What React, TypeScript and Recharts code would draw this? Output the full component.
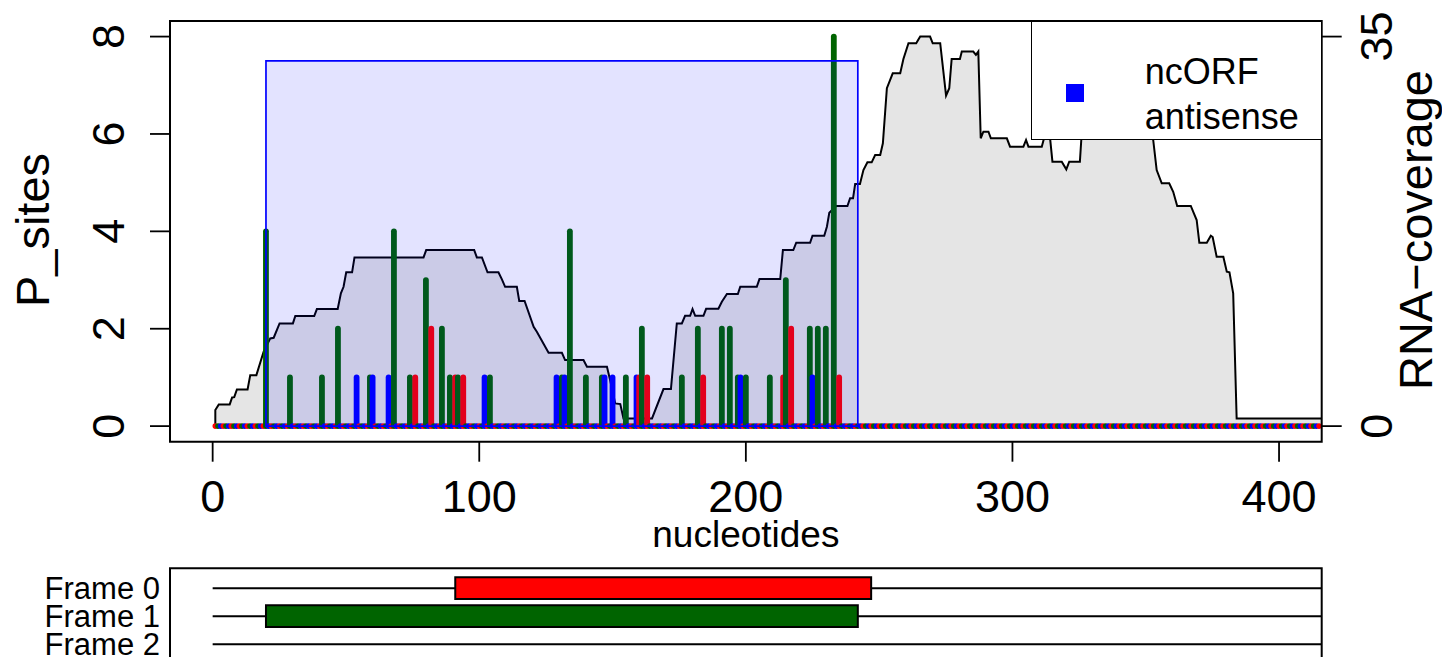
import React from 'react';
import {
  ComposedChart,
  Area,
  Bar,
  XAxis,
  YAxis,
  ReferenceArea,
  ReferenceLine,
  Legend,
  Label,
} from 'recharts';

const FONT = '"Liberation Sans", Arial, Helvetica, sans-serif';

// ---- data -------------------------------------------------------------

const transcriptLength = 415;

// P-site counts, one pair of arrays per reading frame
const frame0Positions = [76, 82, 91, 94, 160, 163, 184, 214, 217, 235];
const frame0Counts = [1, 2, 1, 1, 1, 1, 1, 1, 2, 1];

const frame1Positions = [
  20, 29, 41, 47, 59, 68, 74, 80, 86, 89, 92, 104, 131, 134, 140, 146, 155, 161,
  176, 182, 191, 194, 197, 200, 209, 215, 224, 227, 230, 233,
];
const frame1Counts = [
  4, 1, 1, 2, 1, 4, 1, 3, 2, 1, 1, 1, 1, 4, 1, 1, 1, 2,
  1, 2, 2, 2, 1, 1, 1, 3, 2, 2, 2, 8,
];

const frame2Positions = [54, 60, 66, 102, 129, 132, 147, 150, 159, 198, 225];
const frame2Counts = [1, 1, 1, 1, 1, 1, 1, 1, 1, 1, 1];

// RNA coverage along the transcript: [nucleotide, coverage]
const coverageTrace: [number, number][] = [
  [1, 0], [1, 1.44], [2.3, 1.95], [6.4, 1.95], [7.3, 2.58], [8.1, 2.6], [9.1, 3.3],
  [13.1, 3.3], [14.1, 4.58], [16.4, 4.58], [19.1, 6.68], [21.6, 7.88], [22.9, 7.94],
  [25.1, 9.23], [30.1, 9.23], [31, 9.89], [38.1, 9.89], [39.1, 10.52], [46.9, 10.52],
  [48.1, 11.93], [49.1, 12.52], [50.1, 13.82], [52.3, 13.82], [53.2, 15.16], [79.1, 15.16],
  [80.1, 15.82], [98.1, 15.82], [99.1, 15.16], [101, 15.16], [103.1, 13.82], [107.2, 13.82],
  [108.5, 13.19], [109.7, 12.52], [114.1, 12.52], [115, 11.24], [117, 11.24], [120.4, 8.93],
  [121.6, 8.48], [126, 6.59], [131, 6.59], [132.2, 5.93], [139.1, 5.93], [140.4, 5.33],
  [147.9, 5.33], [149.1, 4.13], [151, 2.04], [152.9, 1.98], [154.1, 0.69], [164.8, 0.69],
  [169.1, 3.33], [171.9, 3.33], [174.1, 9.23], [176, 9.23], [177.2, 9.91], [179.1, 9.91],
  [180, 10.52], [181, 9.91], [184.1, 9.91], [185.1, 10.54], [189.7, 10.54], [191, 11.17],
  [192.9, 11.87], [197, 11.87], [197.9, 12.52], [204.1, 12.52], [205.1, 13.21], [212.9, 13.21],
  [213.9, 15.82], [217.8, 15.82], [218.9, 16.48], [224.1, 16.48], [225, 17.11], [229.4, 17.11],
  [230.4, 17.92], [231.3, 19.17], [233.9, 19.78], [238.1, 19.78], [239.1, 20.47], [240.2, 20.47],
  [241, 21.75], [242.8, 21.75], [244.1, 23.01], [245.6, 23.7], [247.2, 23.7], [248.5, 24.36],
  [250.4, 24.36], [251.4, 25.41], [252.9, 30.36], [255.1, 31.7], [257.9, 31.7], [259.1, 32.99],
  [261, 34.4], [263.9, 34.4], [265.4, 35], [269.1, 35], [270.1, 34.4], [272.9, 34.4],
  [275.1, 29.69], [276.3, 30.36], [277.2, 32.99], [280.3, 32.99], [281, 33.65], [285.3, 33.65],
  [286.3, 33.35], [287.2, 33.65], [288.1, 25.86], [289.1, 26.45], [291, 26.45], [291.9, 25.86],
  [297.9, 25.86], [299.1, 25.11], [304.1, 25.11], [305.1, 25.71], [306, 25.11], [311, 25.11],
  [311.9, 25.9], [314.1, 25.9], [315, 23.76], [318.5, 23.76], [320.2, 23.07], [321.3, 23.76],
  [325.3, 23.76], [326, 26.4], [336.6, 26.8], [344.1, 26.4], [351.6, 26.2], [352.8, 25.71],
  [354.1, 23.01], [356, 21.82], [358.8, 21.82], [360.3, 21.06], [361.8, 19.78], [366.9, 19.78],
  [369.1, 18.52], [370.1, 16.48], [372.9, 16.48], [374.4, 17.11], [375.1, 16.99], [376.6, 15.22],
  [379.1, 15.22], [380.4, 13.87], [381.4, 13.82], [382.8, 11.93], [384.1, 0.69], [416, 0.69],
];

// predicted ORF
const orfStart = 20;
const orfEnd = 242;
const orfHeight = 7.5;
const orfLegendLines = ['ncORF', 'antisense'];

// frame tracks (lower panel)
const frameLabels = ['Frame 0', 'Frame 1', 'Frame 2'];
const frameColors = ['#FF0000', '#006400', '#0000FF'];
const frameOrfStart: (number | null)[] = [91, 20, null];
const frameOrfEnd: (number | null)[] = [247, 242, null];
const trackEnd = 416;

// axes
const xTicks = [0, 100, 200, 300, 400];
const psiteTicks = [0, 2, 4, 6, 8];
const coverageTicks = [0, 35];
const X_DOMAIN: [number, number] = [-16, 416];
const PSITE_DOMAIN: [number, number] = [-0.32, 8.32];
const COV_DOMAIN: [number, number] = [-1.4, 36.4];
const TRACK_DOMAIN: [number, number] = [-0.71, 2.71];

// ---- derived tables ---------------------------------------------------

const countByNt = new Map<number, number>();
[
  [frame0Positions, frame0Counts],
  [frame1Positions, frame1Counts],
  [frame2Positions, frame2Counts],
].forEach(([pos, cnt]) => pos.forEach((nt, i) => countByNt.set(nt, cnt[i])));

const psiteRows = Array.from({ length: transcriptLength }, (_, i) => {
  const nt = i + 1;
  return { nt, psites: countByNt.get(nt) ?? 0, frame: (nt + 2) % 3 };
});

const coverageRows = coverageTrace.map(([nt, cov]) => ({ nt, cov }));

const trackRows = [{ nt: 0 }, { nt: trackEnd }];

// ---- layout -------------------------------------------------------------

const W = 1442;
const PLOT_LEFT = 170;
const PLOT_RIGHT = 1321.7;
const PLOT_TOP = 21;
const PLOT_BOTTOM = 441.7;
const MAIN_H = 560;
const X_AXIS_H = 100;

// ---- renderers ----------------------------------------------------------

// vertical P-site stick with round caps; zero counts leave just the cap dot
const Stick = (props: any) => {
  const { x, y, width, height } = props;
  const entry = props.payload ?? props;
  const color = frameColors[entry.frame];
  const cx = x + width / 2;
  const h = height || 0;
  if (Math.abs(h) < 0.5) {
    return <circle cx={cx} cy={y + h} r={2.8} fill={color} />;
  }
  return (
    <line
      x1={cx}
      x2={cx}
      y1={y + h}
      y2={y}
      stroke={color}
      strokeWidth={5.8}
      strokeLinecap="round"
    />
  );
};

const XTick = (props: any) => (
  <text
    x={props.x}
    y={512}
    textAnchor="middle"
    fontSize={45}
    fontFamily={FONT}
    fill="#000"
  >
    {props.payload.value}
  </text>
);

const LeftTick = (props: any) => (
  <text
    transform={`translate(${PLOT_LEFT - 46}, ${props.y}) rotate(-90)`}
    textAnchor="middle"
    fontSize={45}
    fontFamily={FONT}
    fill="#000"
  >
    {props.payload.value}
  </text>
);

const RightTick = (props: any) => (
  <text
    transform={`translate(${PLOT_RIGHT + 70}, ${props.y}) rotate(-90)`}
    textAnchor="middle"
    fontSize={45}
    fontFamily={FONT}
    fill="#000"
  >
    {props.payload.value}
  </text>
);

const FrameTick = (props: any) => (
  <text
    x={160}
    y={props.y + 11}
    textAnchor="end"
    fontSize={31}
    fontFamily={FONT}
    fill="#000"
  >
    {frameLabels[2 - props.payload.value]}
  </text>
);

const OrfLegend = () => (
  <div
    style={{
      width: PLOT_RIGHT - 1031,
      height: 140 - PLOT_TOP,
      background: '#fff',
      border: '1.8px solid #000',
      boxSizing: 'border-box',
      position: 'relative',
      overflow: 'hidden',
    }}
  >
    <svg
      width={PLOT_RIGHT - 1031}
      height={140 - PLOT_TOP}
      style={{ position: 'absolute', left: -1.8, top: -1.8 }}
    >
      <rect x={36} y={64} width={18} height={18} fill={frameColors[2]} />
      {orfLegendLines.map((line, i) => (
        <text
          key={line}
          x={114.7}
          y={64 + i * 45}
          fontSize={36}
          fontFamily={FONT}
          fill="#000"
        >
          {line}
        </text>
      ))}
    </svg>
  </div>
);

const tickLineStyle = { stroke: '#000', strokeWidth: 1.8 };

export default function App() {
  const frameTracks = frameLabels.map((_, f) => {
    const level = 2 - f;
    const s = frameOrfStart[f];
    const e = frameOrfEnd[f];
    const pieces: [number, number][] =
      s == null || e == null ? [[0, trackEnd]] : [[0, s], [e, trackEnd]];
    return { level, pieces, s, e, color: frameColors[f] };
  });

  return (
    <div
      style={{
        position: 'fixed',
        left: 0,
        top: 0,
        width: W,
        height: 657,
        overflow: 'hidden',
        background: '#fff',
        fontFamily: FONT,
      }}
    >
      <div style={{ position: 'absolute', left: 0, top: 0 }}>
        <ComposedChart
          width={W}
          height={MAIN_H}
          data={psiteRows}
          margin={{
            top: PLOT_TOP,
            right: 0,
            left: 0,
            bottom: MAIN_H - PLOT_BOTTOM - X_AXIS_H,
          }}
        >
          <XAxis
            dataKey="nt"
            type="number"
            domain={X_DOMAIN}
            ticks={xTicks}
            interval={0}
            allowDataOverflow
            axisLine={false}
            tickLine={tickLineStyle}
            tickSize={20}
            height={X_AXIS_H}
            tick={<XTick />}
          >
            <Label
              content={() => (
                <text
                  x={(PLOT_LEFT + PLOT_RIGHT) / 2}
                  y={546.7}
                  textAnchor="middle"
                  fontSize={37}
                  fontFamily={FONT}
                  fill="#000"
                >
                  nucleotides
                </text>
              )}
            />
          </XAxis>
          <YAxis
            yAxisId="p"
            orientation="left"
            type="number"
            domain={PSITE_DOMAIN}
            ticks={psiteTicks}
            interval={0}
            allowDataOverflow
            width={PLOT_LEFT}
            axisLine={false}
            tickLine={tickLineStyle}
            tickSize={20}
            tick={<LeftTick />}
          >
            <Label
              content={() => (
                <text
                  transform={`translate(48.5, 230) rotate(-90)`}
                  textAnchor="middle"
                  fontSize={47}
                  fontFamily={FONT}
                  fill="#000"
                >
                  P_sites
                </text>
              )}
            />
          </YAxis>
          <YAxis
            yAxisId="cov"
            orientation="right"
            type="number"
            domain={COV_DOMAIN}
            ticks={coverageTicks}
            interval={0}
            allowDataOverflow
            width={W - PLOT_RIGHT}
            axisLine={false}
            tickLine={tickLineStyle}
            tickSize={20}
            tick={<RightTick />}
          >
            <Label
              content={() => (
                <text
                  transform={`translate(1431.7, 230) rotate(-90)`}
                  textAnchor="middle"
                  fontSize={47}
                  fontFamily={FONT}
                  fill="#000"
                >
                  RNA−coverage
                </text>
              )}
            />
          </YAxis>

          <Area
            yAxisId="cov"
            data={coverageRows}
            dataKey="cov"
            type="linear"
            stroke="#000"
            strokeWidth={2}
            fill="#E5E5E5"
            fillOpacity={1}
            baseValue={0}
            dot={false}
            activeDot={false}
            isAnimationActive={false}
            zIndex={100}
          />

          <Bar
            yAxisId="p"
            dataKey="psites"
            barSize={2}
            shape={<Stick />}
            isAnimationActive={false}
            zIndex={300}
          />

          <ReferenceArea
            yAxisId="p"
            x1={orfStart}
            x2={orfEnd}
            y1={0}
            y2={orfHeight}
            fill="#0000FF"
            fillOpacity={0.11}
            stroke="#0000FF"
            strokeWidth={1.7}
            zIndex={700}
          />

          <ReferenceArea
            yAxisId="p"
            x1={X_DOMAIN[0]}
            x2={X_DOMAIN[1]}
            y1={PSITE_DOMAIN[0]}
            y2={PSITE_DOMAIN[1]}
            fill="none"
            stroke="#000"
            strokeWidth={2}
            zIndex={800}
          />

          <Legend
            layout="horizontal"
            verticalAlign="middle"
            align="center"
            wrapperStyle={{
              left: 1031,
              top: PLOT_TOP,
              width: PLOT_RIGHT - 1031,
              height: 140 - PLOT_TOP,
              zIndex: 5,
            }}
            content={() => <OrfLegend />}
          />
        </ComposedChart>
      </div>

      <div style={{ position: 'absolute', left: 0, top: 548 }}>
        <ComposedChart
          width={W}
          height={116}
          data={trackRows}
          margin={{ top: 20.3, right: W - PLOT_RIGHT, left: 0, bottom: 0 }}
        >
          <XAxis dataKey="nt" type="number" domain={X_DOMAIN} allowDataOverflow hide />
          <YAxis
            type="number"
            domain={TRACK_DOMAIN}
            ticks={[0, 1, 2]}
            interval={0}
            allowDataOverflow
            width={PLOT_LEFT}
            axisLine={false}
            tickLine={false}
            tick={<FrameTick />}
          />
          {frameTracks.map((t) =>
            t.pieces.map(([a, b], k) => (
              <ReferenceLine
                key={`trk-${t.level}-${k}`}
                segment={[
                  { x: a, y: t.level },
                  { x: b, y: t.level },
                ]}
                stroke="#000"
                strokeWidth={2}
              />
            ))
          )}
          {frameTracks.map((t) =>
            t.s == null || t.e == null ? null : (
              <ReferenceArea
                key={`orf-${t.level}`}
                x1={t.s}
                x2={t.e}
                y1={t.level - 0.39}
                y2={t.level + 0.39}
                fill={t.color}
                fillOpacity={1}
                stroke="#000"
                strokeWidth={2}
                zIndex={700}
              />
            )
          )}
          <ReferenceArea
            x1={X_DOMAIN[0]}
            x2={X_DOMAIN[1]}
            y1={TRACK_DOMAIN[0]}
            y2={TRACK_DOMAIN[1]}
            fill="none"
            stroke="#000"
            strokeWidth={2}
            zIndex={800}
          />
        </ComposedChart>
      </div>
    </div>
  );
}
